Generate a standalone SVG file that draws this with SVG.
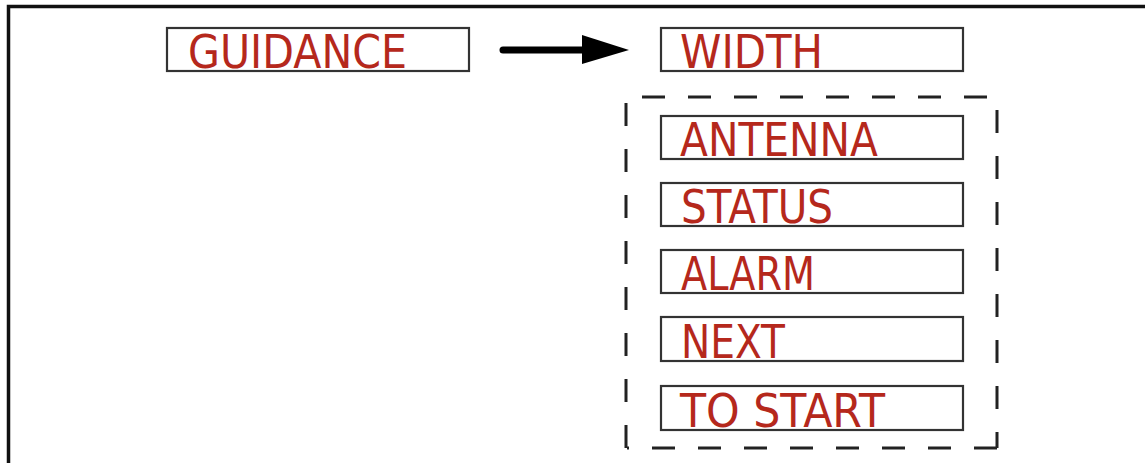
<svg xmlns="http://www.w3.org/2000/svg" width="1145" height="463" viewBox="0 0 1145 463">
<style>
.box{fill:#ffffff;stroke:#333333;stroke-width:2.2}
.lbl{font-family:"DejaVu Sans","Liberation Sans",sans-serif;font-size:46px;fill:#b5281c}
.frame{fill:none;stroke:#111111;stroke-width:3.5}
.dash{fill:none;stroke:#222222;stroke-width:3;stroke-dasharray:23 23}
</style>
<rect width="1145" height="463" fill="#ffffff"/>
<path class="frame" d="M8.5,463 L8.5,6.5 L1145,6.5"/>
<g id="group-dashed">
<line class="dash" x1="627" y1="97" x2="998" y2="97" stroke-dashoffset="31"/>
<line class="dash" x1="626" y1="97" x2="626" y2="448" stroke-dashoffset="40"/>
<line class="dash" x1="997" y1="97" x2="997" y2="448" stroke-dashoffset="33"/>
<line class="dash" x1="627" y1="448" x2="998" y2="448" stroke-width="4" stroke-dashoffset="21"/>
</g>
<g id="guidance"><rect class="box" x="167" y="28" width="302" height="43"/><text class="lbl" x="188" y="68" textLength="219" lengthAdjust="spacingAndGlyphs">GUIDANCE</text></g>
<g id="width"><rect class="box" x="661" y="28" width="302" height="43"/><text class="lbl" x="680" y="68" textLength="143" lengthAdjust="spacingAndGlyphs">WIDTH</text></g>
<g id="antenna"><rect class="box" x="661" y="116" width="302" height="43"/><text class="lbl" x="680" y="156" textLength="198" lengthAdjust="spacingAndGlyphs">ANTENNA</text></g>
<g id="status"><rect class="box" x="661" y="183" width="302" height="43"/><text class="lbl" x="681" y="223" textLength="152" lengthAdjust="spacingAndGlyphs">STATUS</text></g>
<g id="alarm"><rect class="box" x="661" y="250" width="302" height="43"/><text class="lbl" x="681" y="290" textLength="134" lengthAdjust="spacingAndGlyphs">ALARM</text></g>
<g id="next"><rect class="box" x="661" y="317" width="302" height="44"/><text class="lbl" x="681" y="358" textLength="104" lengthAdjust="spacingAndGlyphs">NEXT</text></g>
<g id="to-start"><rect class="box" x="661" y="386" width="302" height="44"/><text class="lbl" x="680" y="427" textLength="205" lengthAdjust="spacingAndGlyphs">TO START</text></g>
<g id="connectors">
<line x1="503" y1="50" x2="588" y2="50" stroke="#000" stroke-width="7" stroke-linecap="round"/>
<polygon points="582,35 629,50 582,64" fill="#000"/>
</g>
</svg>
